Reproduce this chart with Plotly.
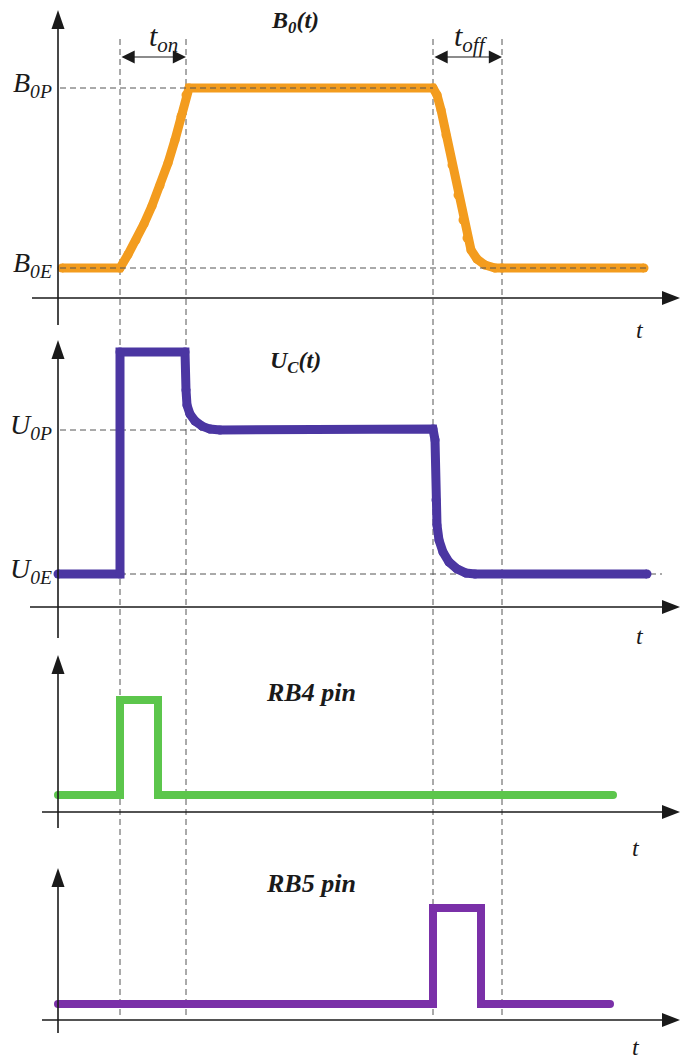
import plotly.graph_objects as go

# ---------------- data (time in arbitrary units, levels in arbitrary units) ----------------
event_t = [6.2, 12.8, 37.5, 44.4]          # t_on start/end, t_off start/end

t_b0 = [0.4, 6.2, 7.0, 7.8, 8.6, 9.4, 10.2, 11.0, 11.7, 12.3, 12.8, 13.1,
        37.5, 37.9, 38.3, 38.8, 39.4, 40.0, 40.5, 40.9, 41.3, 41.9, 42.7, 43.7, 44.4, 58.6]
b0 = [1.0, 1.0, 1.45, 1.93, 2.47, 3.07, 3.75, 4.5, 5.27, 6.05, 6.77, 7.0,
      7.0, 6.77, 6.27, 5.43, 4.43, 3.43, 2.6, 2.0, 1.6, 1.3, 1.1, 1.0, 1.0, 1.0]
B0E, B0P = 1.0, 7.0

t_uc = [0.0, 6.2, 6.2, 12.7, 12.8, 12.9, 13.2, 13.7, 14.4, 15.2, 16.2,
        37.5, 37.7, 37.8, 37.9, 38.1, 38.5, 39.1, 39.9, 40.8, 41.7, 58.9]
uc = [1.1, 1.1, 8.5, 8.5, 7.23, 6.73, 6.43, 6.2, 6.03, 5.93, 5.9,
      5.93, 5.57, 3.57, 2.73, 2.23, 1.83, 1.5, 1.27, 1.13, 1.1, 1.1]
U0E, U0P = 1.1, 5.9

t_rb4 = [0.0, 6.2, 6.2, 10.0, 10.0, 55.5]
rb4 = [0, 0, 1, 1, 0, 0]
t_rb5 = [0.0, 37.5, 37.5, 42.3, 42.3, 55.2]
rb5 = [0, 0, 1, 1, 0, 0]

titles = ["<b><i>B<sub>0</sub>(t)</i></b>", "<b><i>U<sub>C</sub>(t)</i></b>",
          "<b><i>RB4 pin</i></b>", "<b><i>RB5 pin</i></b>"]
title_sizes = [24, 24, 26, 26]

# ---------------- layout geometry ----------------
W, H = 680, 1061
T0_PX, PX_PER_T = 58, 10.0


def t_of(px):
    return (px - T0_PX) / PX_PER_T


panels = [
    dict(ax="y", zero=298, ppu=30, axis_px=298, top=10, bottom=325, xstart=32, title=(295, 22), tlab=(640, 330)),
    dict(ax="y2", zero=607, ppu=30, axis_px=607, top=340, bottom=638, xstart=30, title=(295, 362), tlab=(640, 636)),
    dict(ax="y3", zero=795, ppu=95, axis_px=812, top=655, bottom=828, xstart=42, title=(311, 692), tlab=(636, 848)),
    dict(ax="y4", zero=1004, ppu=96, axis_px=1020, top=868, bottom=1033, xstart=42, title=(311, 883), tlab=(636, 1047)),
]


def v_of(p, px):
    return (p["zero"] - px) / p["ppu"]


SERIF = "Liberation Serif"
INK = "#1a1a1a"
DASH = "#555555"

fig = go.Figure()

series = [
    (t_b0, b0, "y", "#F39C1E", 9),
    (t_uc, uc, "y2", "#4B36A2", 9),
    (t_rb4, rb4, "y3", "#5CC64C", 8),
    (t_rb5, rb5, "y4", "#7A30A8", 8),
]
for tx, vy, yax, col, w in series:
    fig.add_trace(go.Scatter(x=tx, y=vy, yaxis=yax, mode="lines+markers",
                             line=dict(color=col, width=w),
                             marker=dict(color=col, size=w, line=dict(width=0)),
                             hoverinfo="skip", showlegend=False))

shapes = []
annotations = []

for te in event_t:
    shapes.append(dict(type="line", xref="x", yref="paper", x0=te, x1=te,
                       y0=1 - 1015 / H, y1=1 - 37 / H,
                       line=dict(color=DASH, width=1, dash="6px,4px"), layer="below"))

p1, p2 = panels[0], panels[1]
for lvl, t_end, p, lay in [(B0P, event_t[2], p1, "above"), (B0E, 59.0, p1, "above"),
                           (U0P, event_t[2], p2, "below"), (U0E, 60.4, p2, "below")]:
    shapes.append(dict(type="line", xref="x", yref=p["ax"], x0=0.2, x1=t_end, y0=lvl, y1=lvl,
                       line=dict(color=DASH, width=1, dash="6px,4px"), layer=lay))

for i, p in enumerate(panels):
    ya = p["ax"]
    shapes.append(dict(type="line", xref="x", yref=ya, x0=0, x1=0,
                       y0=v_of(p, p["bottom"]), y1=v_of(p, p["top"] + 12),
                       line=dict(color=INK, width=1.6)))
    shapes.append(dict(type="path", xref="x", yref=ya, xsizemode="pixel", ysizemode="pixel",
                       xanchor=0, yanchor=v_of(p, p["top"]),
                       path="M-6.5,-19 L6.5,-19 L0,0 Z", fillcolor=INK, line=dict(width=0)))
    ay = v_of(p, p["axis_px"])
    shapes.append(dict(type="line", xref="x", yref=ya, x0=t_of(p["xstart"]), x1=t_of(666),
                       y0=ay, y1=ay, line=dict(color=INK, width=1.6)))
    shapes.append(dict(type="path", xref="x", yref=ya, xsizemode="pixel", ysizemode="pixel",
                       xanchor=t_of(680), yanchor=ay,
                       path="M-18,-7 L-18,7 L0,0 Z", fillcolor=INK, line=dict(width=0)))
    annotations.append(dict(x=t_of(p["title"][0]), y=v_of(p, p["title"][1]), xref="x", yref=ya,
                            text=titles[i], showarrow=False,
                            font=dict(family=SERIF, size=title_sizes[i], color=INK)))
    annotations.append(dict(x=t_of(p["tlab"][0]), y=v_of(p, p["tlab"][1]), xref="x", yref=ya,
                            text="<i>t</i>", showarrow=False,
                            font=dict(family=SERIF, size=24, color=INK)))

for txt, lvl, p in [("<i>B<sub>0P</sub></i>", B0P, p1), ("<i>B<sub>0E</sub></i>", B0E, p1),
                    ("<i>U<sub>0P</sub></i>", U0P, p2), ("<i>U<sub>0E</sub></i>", U0E, p2)]:
    annotations.append(dict(x=t_of(54), y=lvl, xref="x", yref=p["ax"], xanchor="right",
                            text=txt, showarrow=False, yshift=4,
                            font=dict(family=SERIF, size=28, color=INK)))

arrow_y = v_of(p1, 57)
for (ta, tb), lab, lx in [((event_t[0], event_t[1]), "<i>t<sub>on</sub></i>", 163),
                          ((event_t[2], event_t[3]), "<i>t<sub>off</sub></i>", 471)]:
    annotations.append(dict(x=tb, y=arrow_y, ax=ta, ay=arrow_y, xref="x", yref="y",
                            axref="x", ayref="y", text="", showarrow=True,
                            arrowhead=2, startarrowhead=2, arrowside="end+start",
                            arrowsize=2.2, startarrowsize=2.2, arrowwidth=1.2,
                            arrowcolor=INK, standoff=0, startstandoff=0))
    annotations.append(dict(x=t_of(lx), y=v_of(p1, 38), xref="x", yref="y", text=lab,
                            showarrow=False, font=dict(family=SERIF, size=30, color=INK)))

layout_axes = {}
for i, p in enumerate(panels):
    key = "yaxis" if i == 0 else f"yaxis{i + 1}"
    ax = dict(range=[(p["zero"] - H) / p["ppu"], p["zero"] / p["ppu"]], visible=False,
              fixedrange=True, domain=[0, 1])
    if i > 0:
        ax["overlaying"] = "y"
    layout_axes[key] = ax

fig.update_layout(
    width=W, height=H, margin=dict(l=0, r=0, t=0, b=0),
    paper_bgcolor="white", plot_bgcolor="white", showlegend=False,
    font=dict(family=SERIF),
    xaxis=dict(range=[t_of(0), t_of(W)], visible=False, fixedrange=True, domain=[0, 1]),
    shapes=shapes, annotations=annotations, **layout_axes,
)

fig.write_html("out.html", config={"displayModeBar": False})
